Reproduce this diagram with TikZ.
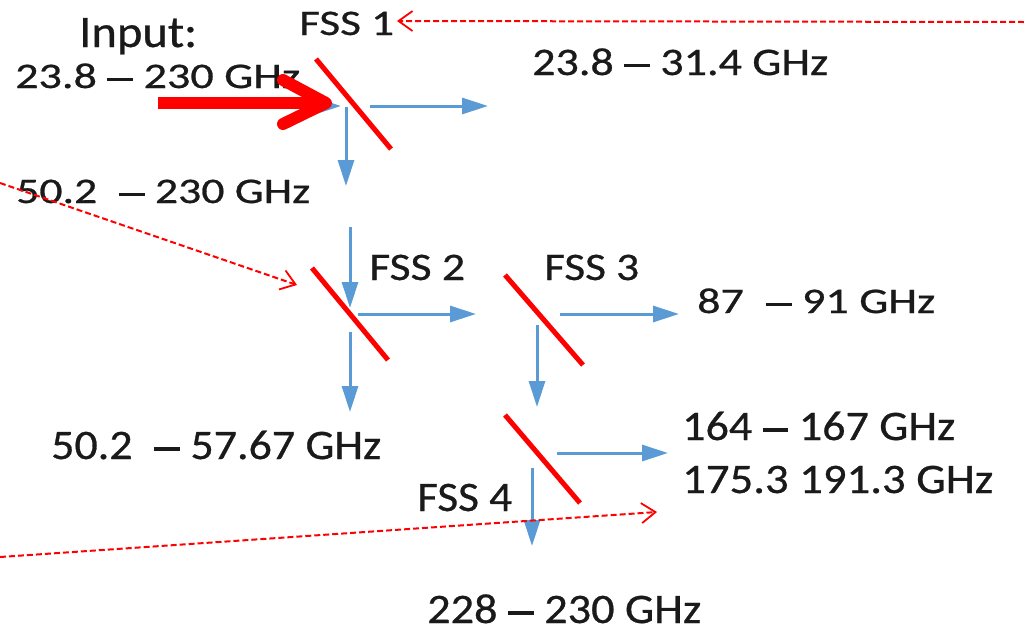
\documentclass[tikz,border=0pt]{standalone}
\usepackage{fontspec}
\setmainfont{Carlito}[FakeBold=0.6]
\usetikzlibrary{arrows.meta}
\definecolor{beam}{HTML}{5B9BD5}
\definecolor{fssred}{HTML}{FF0000}
\definecolor{ink}{HTML}{1A1A1A}
\newcommand\fitw[2]{\resizebox{#1pt}{\height}{#2}}
\newcommand\dsh{\rule[0.2em]{0.56em}{0.075em}}
\begin{document}
\begin{tikzpicture}[x=1pt,y=-1pt,
 lbl/.style={anchor=base west, inner sep=0pt, text=ink},
 mirror/.style={draw=fssred, line width=5pt},
 beamarrow/.style={draw=beam, line width=3pt, -{Triangle[length=26pt,width=16pt]}},
 dasharrow/.style={draw=fssred, line width=2pt, dash pattern=on 6pt off 3pt, -{Straight Barb[length=14pt,width=20pt,line width=1.8pt]}},
 bigarrow/.style={draw=fssred, line width=12pt, line join=round}]
\useasboundingbox (0,0) rectangle (1024,635);
\fill[white] (0,0) rectangle (1024,635);
% labels
\node[lbl, font=\fontsize{36}{40}\selectfont] (fss1) at (299,35) {\fitw{95}{FSS 1}};
\node[lbl, font=\fontsize{45}{50}\selectfont] (input) at (79,47) {\fitw{118}{Input:}};
\node[lbl, font=\fontsize{36}{40}\selectfont] (inband) at (15,88) {\fitw{285}{23.8 \dsh{} 230 GHz}};
\node[lbl, font=\fontsize{39}{44}\selectfont] (out1) at (532,75) {\fitw{296}{23.8 \dsh{} 31.4 GHz}};
\node[lbl, font=\fontsize{36}{40}\selectfont] (midband) at (16,203) {\fitw{294}{50.2\hspace{0.25em} \dsh{} 230 GHz}};
\node[lbl, font=\fontsize{39}{44}\selectfont] (fss2) at (369,280) {\fitw{96}{FSS 2}};
\node[lbl, font=\fontsize{39}{44}\selectfont] (fss3) at (544,280) {\fitw{95}{FSS 3}};
\node[lbl, font=\fontsize{36}{40}\selectfont] (out2) at (697,313) {\fitw{238}{87\hspace{0.25em} \dsh{} 91 GHz}};
\node[lbl, font=\fontsize{42}{46}\selectfont] (out3) at (51,459) {\fitw{330}{50.2\hspace{0.25em} \dsh{} 57.67 GHz}};
\node[lbl, font=\fontsize{42}{46}\selectfont] (out4a) at (682,440) {\fitw{273}{164 \dsh{} 167 GHz}};
\node[lbl, font=\fontsize{42}{46}\selectfont] (out4b) at (682,493) {\fitw{311}{175.3 191.3 GHz}};
\node[lbl, font=\fontsize{42}{46}\selectfont] (fss4) at (417,511) {\fitw{95}{FSS 4}};
\node[lbl, font=\fontsize{42}{46}\selectfont] (out5) at (427,623) {\fitw{274}{228 \dsh{} 230 GHz}};
% coordinates
\coordinate (m1a) at (316,59);  \coordinate (m1b) at (391,149);
\coordinate (m2a) at (312,268); \coordinate (m2b) at (388,360);
\coordinate (m3a) at (505,275); \coordinate (m3b) at (583,365);
\coordinate (m4a) at (505,415); \coordinate (m4b) at (580,503);
\coordinate (b0s) at (250,106); \coordinate (b0e) at (341,106);
\coordinate (b1rs) at (370,106); \coordinate (b1re) at (488,106);
\coordinate (b1ds) at (346,107); \coordinate (b1de) at (346,186);
\coordinate (b2is) at (350,227); \coordinate (b2ie) at (350,308);
\coordinate (b2rs) at (358,314); \coordinate (b2re) at (476,314);
\coordinate (b2ds) at (350,332); \coordinate (b2de) at (350,412);
\coordinate (b3rs) at (560,314); \coordinate (b3re) at (679,314);
\coordinate (b3ds) at (537,325); \coordinate (b3de) at (537,407);
\coordinate (b4rs) at (557,453); \coordinate (b4re) at (668,453);
\coordinate (b4ds) at (532,468); \coordinate (b4de) at (532,546);
\coordinate (d1s) at (1024,22); \coordinate (d1e) at (397,21);
\coordinate (d2s) at (0,183);   \coordinate (d2e) at (297,285);
\coordinate (d3s) at (0,557);   \coordinate (d3e) at (657,512);
\coordinate (ra) at (158,103); \coordinate (rshaft) at (320,103);
\coordinate (rtip) at (326,103);
\coordinate (rw1) at (283,80); \coordinate (rw2) at (283,124);
% beams
\draw[beamarrow] (b0s) -- (b0e);
\draw[beamarrow] (b1rs) -- (b1re);
\draw[beamarrow] (b1ds) -- (b1de);
\draw[beamarrow] (b2is) -- (b2ie);
\draw[beamarrow] (b2rs) -- (b2re);
\draw[beamarrow] (b2ds) -- (b2de);
\draw[beamarrow] (b3rs) -- (b3re);
\draw[beamarrow] (b3ds) -- (b3de);
\draw[beamarrow] (b4rs) -- (b4re);
\draw[beamarrow] (b4ds) -- (b4de);
% mirrors
\draw[mirror] (m1a) -- (m1b);
\draw[mirror] (m2a) -- (m2b);
\draw[mirror] (m3a) -- (m3b);
\draw[mirror] (m4a) -- (m4b);
% input arrow
\draw[bigarrow] (ra) -- (rshaft);
\draw[bigarrow, line cap=round] (rw1) -- (rtip) -- (rw2);
% dashed pointers
\draw[dasharrow] (d1s) -- (d1e);
\draw[dasharrow] (d2s) -- (d2e);
\draw[dasharrow] (d3s) -- (d3e);
\end{tikzpicture}
\end{document}
